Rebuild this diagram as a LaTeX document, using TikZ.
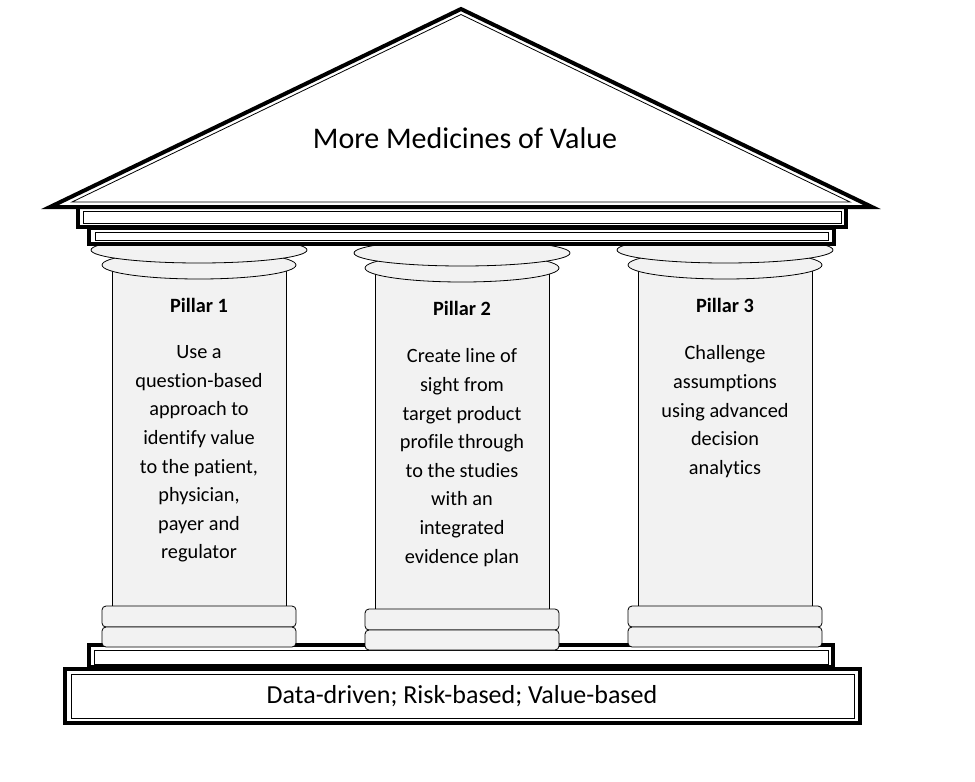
\documentclass[tikz,border=0pt]{standalone}
\usepackage{fontspec}
\setmainfont{Carlito}[Ligatures=NoCommon]
\usepackage{tikz}
\usetikzlibrary{calc}
\definecolor{pedra}{HTML}{F2F2F2}

\begin{document}
\begin{tikzpicture}[x=1pt, y=-1pt, line join=miter,
  grosso/.style={line width=4pt},
  fino/.style={line width=0.8pt},
  bloco/.style={fill=pedra, draw=black, line width=0.8pt},
  texto/.style={inner sep=0pt, font=\fontsize{20.3}{28.6}\selectfont}]
  \useasboundingbox (0,0) rectangle (975,782);
  % steps
  \draw[grosso, fill=white] (89,645) rectangle (833,667);
  \draw[fino] (94,650) rectangle (828,664);
  \draw[grosso, fill=white] (65,669) rectangle (860,723);
  \draw[fino] (71,674) rectangle (854,718);
  \node[inner sep=0pt, anchor=base, font=\fontsize{26}{30}\selectfont] (alicerce) at (462,703) {Data-driven; Risk-based; Value-based};
  % pillars
  \foreach \i/\dy/\txt in {1/0/{Use a\\question-based\\approach to\\identify value\\to the patient,\\physician,\\payer and\\regulator},
                           2/3/{Create line of\\sight from\\target product\\profile through\\to the studies\\with an\\integrated\\evidence plan},
                           3/0/{Challenge\\assumptions\\using advanced\\decision\\analytics}}{
    \pgfmathsetmacro{\cx}{199+263*(\i-1)}
    \draw[bloco] (\cx-87,260+\dy) rectangle (\cx+87,607+\dy);
    \draw[bloco, rounded corners=4pt] (\cx-97,606+\dy) rectangle (\cx+97,627+\dy);
    \draw[bloco, rounded corners=4pt] (\cx-97,627+\dy) rectangle (\cx+97,647+\dy);
    \draw[bloco] (\cx,265+\dy) ellipse [x radius=97, y radius=14];
    \draw[bloco] (\cx,250+\dy) ellipse [x radius=108, y radius=13];
    \node[inner sep=0pt, anchor=base, font=\fontsize{20.3}{24}\selectfont\bfseries] (titulo\i) at (\cx,312+\dy) {Pillar \i};
    \node[texto, anchor=north, align=center] (corpo\i) at (\cx,345.5+\dy) {\txt};
  }
  % entablature and roof
  \draw[grosso, fill=white] (89,228) rectangle (834,244);
  \draw[fino] (95,232) rectangle (828,240);
  \draw[grosso, fill=white] (78,206) rectangle (846,227);
  \draw[fino] (83,211) rectangle (841,223);
  \draw[grosso, fill=white] (50,207) -- (461,9) -- (872,207) -- cycle;
  \draw[fino] (72,202) -- (461,14.5) -- (850,202) -- cycle;
  \node[inner sep=0pt, anchor=base, font=\fontsize{30}{34}\selectfont] (telhado) at (465,148) {More Medicines of Value};
\end{tikzpicture}
\end{document}
